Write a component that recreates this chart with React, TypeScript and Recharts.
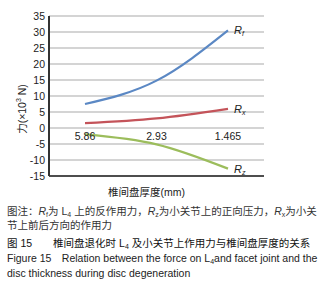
import React from 'react';
import { LineChart, Line, XAxis, YAxis, CartesianGrid, ReferenceDot, LabelList } from 'recharts';

const categories = ['5.86', '2.93', '1.465'];
const rfValues = [7.5, 14.8, 30.5];
const rxValues = [1.5, 3.0, 6.0];
const rzValues = [-2.0, -5.1, -12.7];
const yTicks = [35, 30, 25, 20, 15, 10, 5, 0, -5, -10, -15];
const seriesNames = [
  { key: 'rf', main: 'R', sub: 'f', color: '#5b88c4' },
  { key: 'rx', main: 'R', sub: 'x', color: '#c4545a' },
  { key: 'rz', main: 'R', sub: 'z', color: '#9cbd5c' },
];

const data = categories.map((c, i) => ({ cat: c, rf: rfValues[i], rx: rxValues[i], rz: rzValues[i] }));

const FONT = '"Liberation Sans", Arial, "Noto Sans CJK SC", sans-serif';
const CJK = '"Liberation Sans", "Noto Sans CJK SC", sans-serif';

const makeEndLabel = (main: string, sub: string) => (props: any) => {
  const { x, y, index } = props;
  if (index !== categories.length - 1) return null;
  return (
    <text x={x + 6} y={y} dy={4} fontFamily={FONT} fontSize={11} fill="#222" fontStyle="italic">
      {main}
      <tspan fontSize={7} dy={2}>{sub}</tspan>
    </text>
  );
};

const YLabel = (props: any) => {
  const { viewBox } = props;
  const cx = viewBox.x + 22;
  const cy = viewBox.y + viewBox.height / 2 + 13;
  return (
    <text
      x={cx}
      y={cy}
      transform={`rotate(-90, ${cx}, ${cy})`}
      textAnchor="middle"
      dominantBaseline="central"
      fontFamily={CJK}
      fontSize={10.5}
      fill="#222"
    >
      力(×10<tspan fontSize={7} dy={-4}>3</tspan>
      <tspan dy={4}> N)</tspan>
    </text>
  );
};

const sub = (s: string) => (
  <span style={{ fontSize: 7, fontStyle: 'normal', position: 'relative', top: 2 }}>{s}</span>
);

export default function App() {
  const lineStyle: React.CSSProperties = {
    position: 'absolute',
    left: 7,
    whiteSpace: 'nowrap',
    fontSize: 10.5,
    lineHeight: '16px',
    height: 16,
    fontFamily: CJK,
    color: '#333',
  };
  return (
    <div style={{ position: 'absolute', left: 0, top: 0, width: 328, height: 283, background: '#fff', overflow: 'hidden' }}>
      <LineChart width={328} height={201} data={data} margin={{ top: 16, right: 64, left: 0, bottom: 0 }}>
        <CartesianGrid vertical={false} stroke="#c6c6c6" strokeWidth={1.5} />
        <XAxis
          dataKey="cat"
          type="category"
          padding={{ left: 36, right: 36 }}
          tick={false}
          tickLine={false}
          axisLine={{ stroke: '#222', strokeWidth: 1.5 }}
          height={25}
          label={{ value: '椎间盘厚度(mm)', position: 'insideBottom', offset: 5, dx: -10, fontSize: 10.5, fill: '#222', fontFamily: CJK }}
        />
        <YAxis
          domain={[-15, 35]}
          ticks={yTicks}
          interval={0}
          width={49}
          tickLine={false}
          tickSize={0}
          tickMargin={4}
          axisLine={{ stroke: '#333', strokeWidth: 2 }}
          tick={{ fontSize: 10.5, fill: '#222', fontFamily: FONT }}
          label={<YLabel />}
        />
        {categories.map((c) => (
          <ReferenceDot
            key={c}
            x={c}
            y={0}
            r={0}
            stroke="none"
            fill="none"
            label={{ value: c, position: 'bottom', offset: 5, fontSize: 10.5, fill: '#222', fontFamily: FONT }}
          />
        ))}
        {seriesNames.map((s) => (
          <Line
            key={s.key}
            type="monotone"
            dataKey={s.key}
            stroke={s.color}
            strokeWidth={2.2}
            dot={false}
            isAnimationActive={false}
          >
            <LabelList dataKey={s.key} content={makeEndLabel(s.main, s.sub)} />
          </Line>
        ))}
      </LineChart>
      <div style={{ ...lineStyle, top: 203 }}>
        图注：<i>R</i>{sub('f')}为 L{sub('4')} 上的反作用力，<i>R</i>{sub('z')}为小关节上的正向压力，<i>R</i>{sub('x')}为小关
      </div>
      <div style={{ ...lineStyle, top: 217 }}>节上前后方向的作用力</div>
      <div style={{ ...lineStyle, top: 235, color: '#111' }}>
        图 15{'\u2003\u2003'}椎间盘退化时 L{sub('4')} 及小关节上作用力与椎间盘厚度的关系
      </div>
      <div style={{ ...lineStyle, top: 250, color: '#222' }}>
        Figure 15{'\u2003'}Relation between the force on L{sub('4')}and facet joint and the
      </div>
      <div style={{ ...lineStyle, top: 265, color: '#222' }}>disc thickness during disc degeneration</div>
    </div>
  );
}
